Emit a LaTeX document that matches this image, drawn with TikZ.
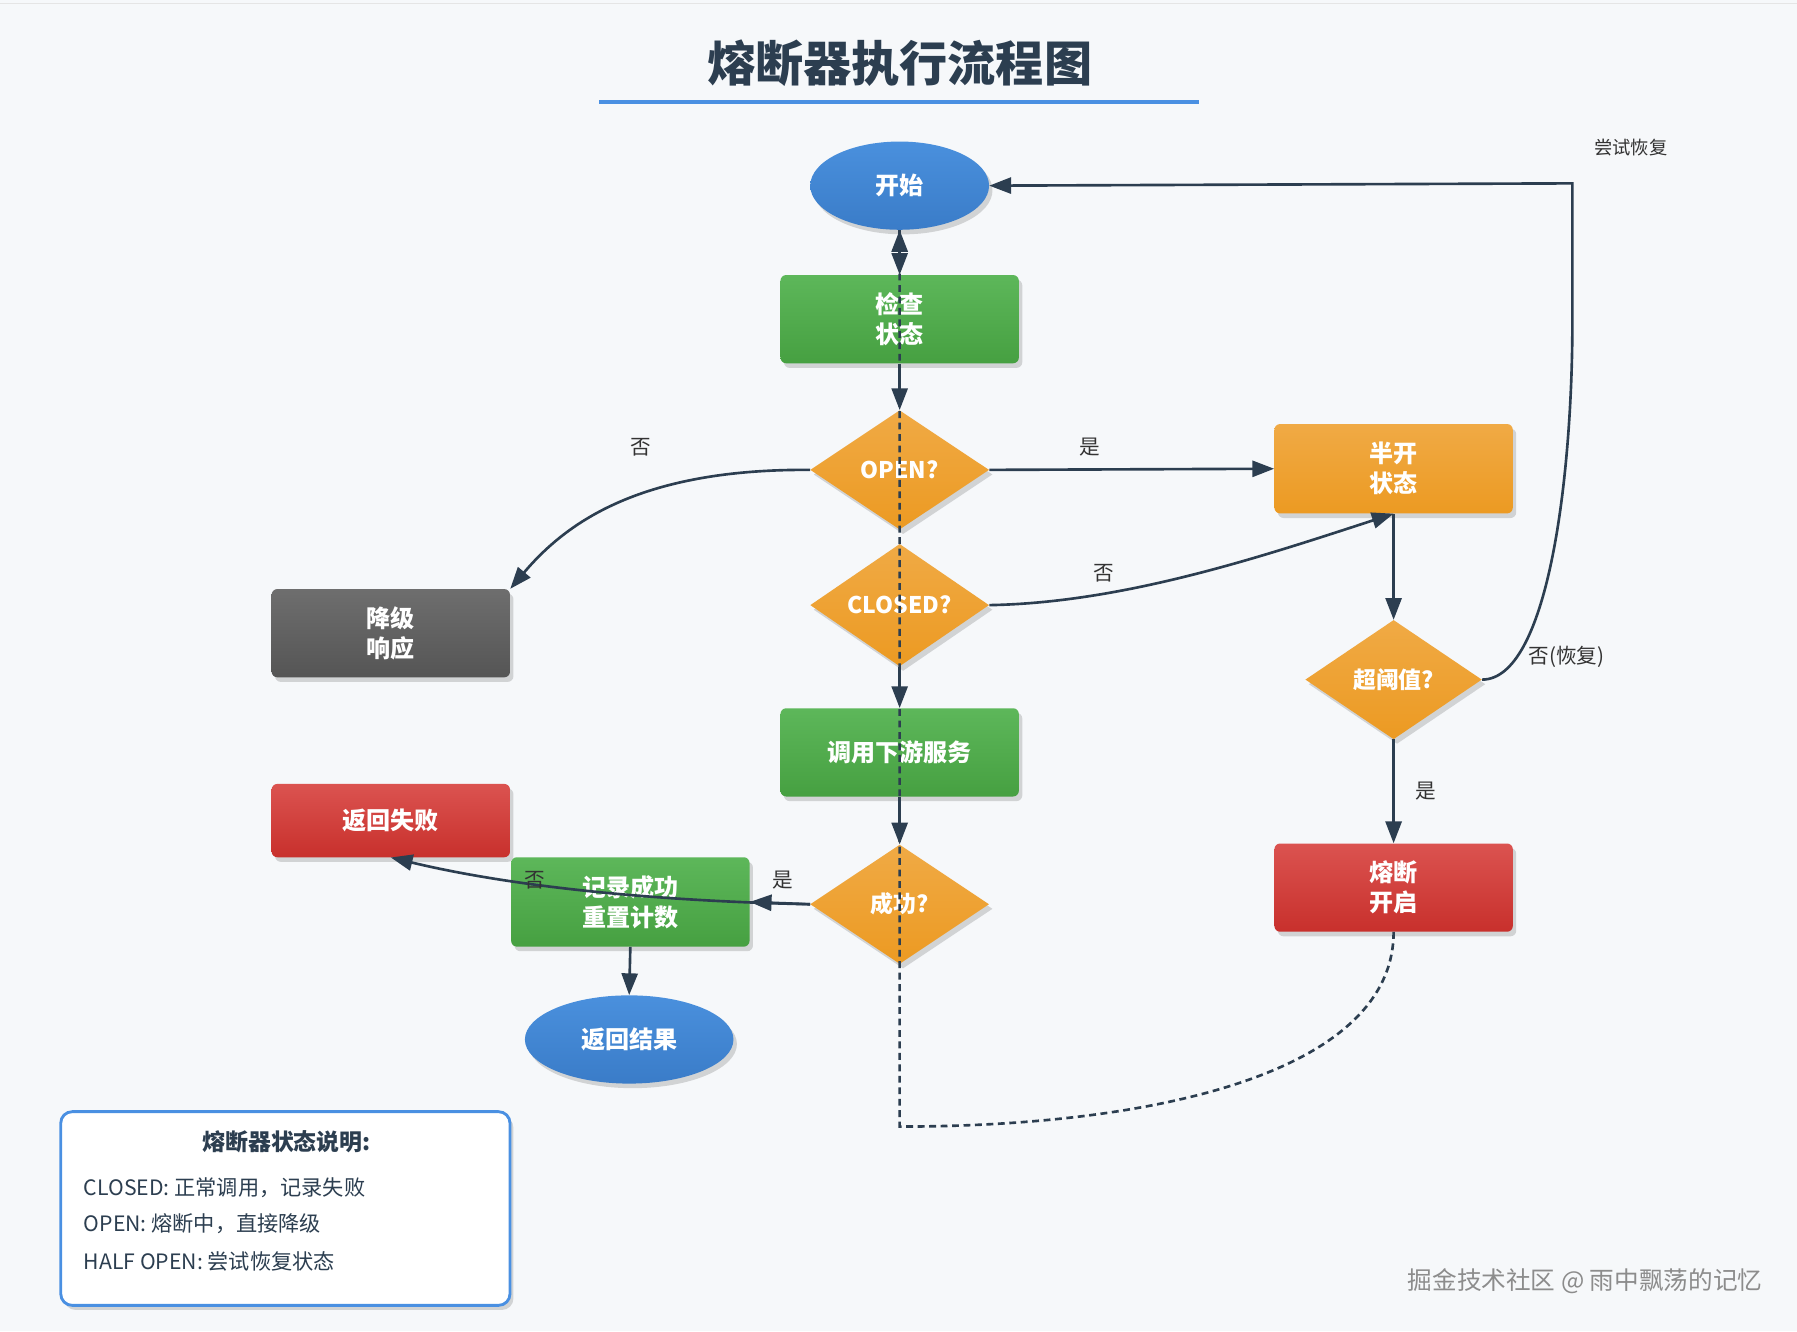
\documentclass[tikz,border=0pt]{standalone}
\usepackage{fontspec}
\setmainfont{Noto Sans CJK SC}
\usetikzlibrary{shapes.geometric,shadows,arrows.meta}
\definecolor{ink}{HTML}{2C3E50}
\definecolor{bgc}{HTML}{F6F8FA}
\definecolor{linec}{HTML}{4A90E2}
\definecolor{gtop}{HTML}{5DB75A}
\definecolor{gbot}{HTML}{46A041}
\definecolor{btop}{HTML}{4A90DD}
\definecolor{bbot}{HTML}{3A7CC8}
\definecolor{otop}{HTML}{F0AA45}
\definecolor{obot}{HTML}{EC9A22}
\definecolor{rtop}{HTML}{DB5350}
\definecolor{rbot}{HTML}{C8302C}
\definecolor{ktop}{HTML}{6E6E6E}
\definecolor{kbot}{HTML}{555555}
\definecolor{lbl}{HTML}{333333}
\begin{document}
\begin{tikzpicture}[x=1pt,y=-1pt,
  shad/.style={drop shadow={shadow xshift=3pt,shadow yshift=-4pt,opacity=0.15,fill=black}},
  nodetxt/.style={text=white,font=\bfseries\fontsize{21}{26}\selectfont,align=center,inner sep=0pt},
  boxnode/.style={nodetxt,rectangle,rounded corners=5pt,minimum width=208pt,minimum height=77pt,shad},
  greenbox/.style={boxnode,top color=gtop,bottom color=gbot},
  redbox/.style={boxnode,top color=rtop,bottom color=rbot},
  orangebox/.style={boxnode,top color=otop,bottom color=obot},
  graybox/.style={boxnode,top color=ktop,bottom color=kbot},
  ovalnode/.style={nodetxt,ellipse,top color=btop,bottom color=bbot,shad},
  decision/.style={nodetxt,diamond,font=\bfseries\fontsize{20}{24}\selectfont,minimum width=156pt,minimum height=104pt,top color=otop,bottom color=obot,shad},
  flow/.style={draw=ink,line width=2.3pt,-{Triangle[length=19pt,width=14pt]}},
  dashflow/.style={flow,dash pattern=on 6pt off 4pt},
  edgelbl/.style={text=lbl,font=\fontsize{18}{20}\selectfont,inner sep=0pt},
  legtxt/.style={text=ink,font=\fontsize{18.5}{22}\selectfont,anchor=west,inner sep=0pt}
]
\fill[bgc] (0,0) rectangle (1568,1161.5);
\useasboundingbox (0,0) rectangle (1568,1161.5);
\draw[black!10,line width=1pt] (0,3) -- (1568,3);

% title
\node[text=ink,font=\bfseries\fontsize{42}{48}\selectfont,inner sep=0pt] (title) at (785,55) {熔断器执行流程图};
\draw[linec,line width=3pt] (523,89) -- (1046,89);

% nodes
\node[ovalnode,minimum width=156pt,minimum height=77pt] (start) at (785,162) {开始};
\node[greenbox] (check) at (785,278.5) {检查\\状态};
\node[decision] (open) at (785,410) {OPEN?};
\node[decision] (closed) at (785,528) {CLOSED?};
\node[greenbox] (call) at (785,656.5) {调用下游服务};
\node[decision] (succ) at (785,789) {成功?};
\node[greenbox,minimum height=78pt] (rec) at (550,787) {记录成功\\重置计数};
\node[ovalnode,minimum width=182pt,minimum height=77pt] (result) at (549,907) {返回结果};
\node[redbox,minimum height=64pt] (fail) at (341,716) {返回失败};
\node[graybox] (degrade) at (341,552.5) {降级\\响应};
\node[orangebox,minimum height=78pt] (half) at (1216,409) {半开\\状态};
\node[decision,minimum width=154pt] (thr) at (1216,593) {超阈值?};
\node[redbox] (fuse) at (1216,774.5) {熔断\\开启};

% legend
\node[draw=linec,line width=2.5pt,fill=white,rounded corners=10pt,minimum width=392pt,minimum height=169pt,shad] (legend) at (249,1054.5) {};
\node[text=ink,font=\bfseries\fontsize{20}{24}\selectfont,inner sep=0pt] (legtitle) at (250,996) {熔断器状态说明:};
\node[legtxt] (leg1) at (73,1036) {CLOSED: 正常调用，记录失败};
\node[legtxt] (leg2) at (73,1068) {OPEN: 熔断中，直接降级};
\node[legtxt] (leg3) at (73,1101) {HALF OPEN: 尝试恢复状态};

% watermark
\node[text=black!45,font=\fontsize{21.5}{24}\selectfont,anchor=east,inner sep=0pt] (wm) at (1538,1118) {掘金技术社区 @ 雨中飘荡的记忆};

% coordinates
\coordinate (dcorner) at (785,983);
\coordinate (rcorner) at (1372,160);
\coordinate (rstraight) at (1372,280);

% connectors
\draw[flow] (start.south) -- (check.north);
\draw[flow] (check.south) -- (open.north);
\draw[flow] (open.east) -- (half.west);
\draw[flow] (open.west) .. controls (560,409) and (495,455) .. (degrade.north east);
\draw[flow] (closed.east) .. controls (980,526) and (1100,486) .. (half.south);
\draw[flow] (closed.south) -- (call.north);
\draw[flow] (half.south) -- (thr.north);
\draw[flow] (thr.south) -- (fuse.north);
\draw[flow] (thr.east) .. controls (1350,593) and (1372,420) .. (rstraight) -- (rcorner) -- (start.east);
\draw[flow] (call.south) -- (succ.north);
\draw[flow] (succ.west) -- (rec.east);
\draw[flow] (succ.west) .. controls (560,786) and (440,772) .. (fail.south);
\draw[flow] (rec.south) -- (result.north);
\draw[dashflow] (fuse.south) .. controls (1216,935) and (1010,983) .. (dcorner) -- (start.south);

% labels
\node[edgelbl] (l1) at (559,390) {否};
\node[edgelbl] (l2) at (951,390) {是};
\node[edgelbl] (l3) at (963,500) {否};
\node[edgelbl] (l4) at (1244,690) {是};
\node[edgelbl] (l5) at (1367,573) {否(恢复)};
\node[edgelbl,font=\fontsize{16}{18}\selectfont] (l6) at (1423,129) {尝试恢复};
\node[edgelbl] (l7) at (683,768) {是};
\node[edgelbl] (l8) at (467,768) {否};
\end{tikzpicture}
\end{document}
